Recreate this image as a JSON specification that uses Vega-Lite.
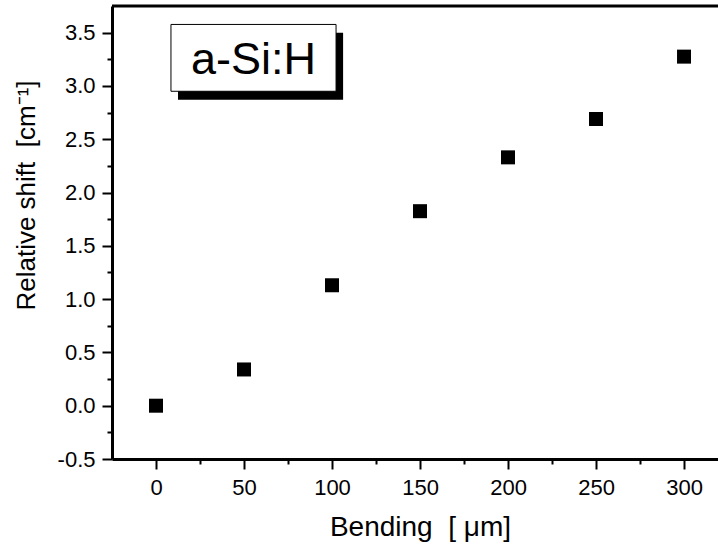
{
  "$schema": "https://vega.github.io/schema/vega-lite/v6.json",
  "width": 606,
  "height": 453,
  "autosize": {"type": "none"},
  "padding": {"left": 112, "top": 6, "right": 0, "bottom": 87},
  "background": "white",
  "config": {
    "view": {"stroke": null},
    "font": "Liberation Sans",
    "axisRight": {"domain": false, "ticks": false, "labels": false, "title": null},
    "axisTop": {"domain": false, "ticks": false, "labels": false, "title": null},
    "axisX": {
      "grid": false,
      "domainColor": "black", "domainWidth": 3,
      "tickColor": "black", "tickWidth": 2,
      "labelFontSize": 22, "labelColor": "black", "labelPadding": 8,
      "labelOverlap": false, "labelFlush": false,
      "titleFontSize": 28, "titleFontWeight": "normal", "titleColor": "black", "titlePadding": 15
    },
    "axisY": {
      "grid": false,
      "domainColor": "black", "domainWidth": 3,
      "tickColor": "black", "tickWidth": 2,
      "labelFontSize": 22, "labelColor": "black", "labelPadding": 7,
      "labelOverlap": false, "labelFlush": false,
      "titleFontSize": 26, "titleFontWeight": "normal", "titleColor": "black", "titlePadding": 18
    }
  },
  "datasets": {
    "points": [
      {"x": 0, "y": 0.0},
      {"x": 50, "y": 0.34},
      {"x": 100, "y": 1.13},
      {"x": 150, "y": 1.825},
      {"x": 200, "y": 2.33},
      {"x": 250, "y": 2.69},
      {"x": 300, "y": 3.275}
    ],
    "shadow": [{"x": 12.5, "x2": 106.3, "y": 3.5, "y2": 2.87}],
    "box": [{"x": 8.5, "x2": 102.3, "y": 3.577, "y2": 2.95}],
    "label": [{"x": 55.4, "y": 3.109, "label": "a-Si:H"}],
    "frame": [{"x": -25, "x2": 319.3, "y": 3.75}]
  },
  "encoding": {
    "x": {
      "field": "x", "type": "quantitative",
      "scale": {"domain": [-25, 319.3], "nice": false, "zero": false},
      "axis": {
        "title": "Bending\u00a0\u00a0[\u00a0μm]",
        "values": [0, 25, 50, 75, 100, 125, 150, 175, 200, 225, 250, 275, 300],
        "tickSize": {"condition": {"test": "datum.value % 50 === 0", "value": 10}, "value": 5},
        "labelExpr": "datum.value % 50 === 0 ? datum.label : ''",
        "titleX": 308
      }
    },
    "y": {
      "field": "y", "type": "quantitative",
      "scale": {"domain": [-0.5, 3.75], "nice": false, "zero": false},
      "axis": {
        "title": "Relative shift\u00a0\u00a0[cm⁻¹]",
        "values": [-0.5, -0.25, 0, 0.25, 0.5, 0.75, 1, 1.25, 1.5, 1.75, 2, 2.25, 2.5, 2.75, 3, 3.25, 3.5],
        "tickSize": {"condition": {"test": "abs(datum.value*2 - round(datum.value*2)) < 0.001", "value": 10}, "value": 5},
        "labelExpr": "abs(datum.value*2 - round(datum.value*2)) < 0.001 ? replace(format(datum.value, '.1f'), '\u2212', '-') : ''",
        "titleY": 189
      }
    }
  },
  "layer": [
    {
      "data": {"name": "points"},
      "mark": {"type": "point", "shape": "square", "filled": true, "color": "black", "size": 196, "opacity": 1}
    },
    {
      "data": {"name": "shadow"},
      "mark": {"type": "rect", "color": "black"},
      "encoding": {"x2": {"field": "x2"}, "y2": {"field": "y2"}}
    },
    {
      "data": {"name": "box"},
      "mark": {"type": "rect", "fill": "white", "stroke": "black", "strokeWidth": 1},
      "encoding": {"x2": {"field": "x2"}, "y2": {"field": "y2"}}
    },
    {
      "data": {"name": "label"},
      "mark": {"type": "text", "fontSize": 45, "color": "black", "align": "center", "baseline": "alphabetic"},
      "encoding": {"text": {"field": "label"}}
    },
    {
      "data": {"name": "frame"},
      "mark": {"type": "rule", "strokeWidth": 3, "color": "black"},
      "encoding": {"x2": {"field": "x2"}}
    }
  ]
}
